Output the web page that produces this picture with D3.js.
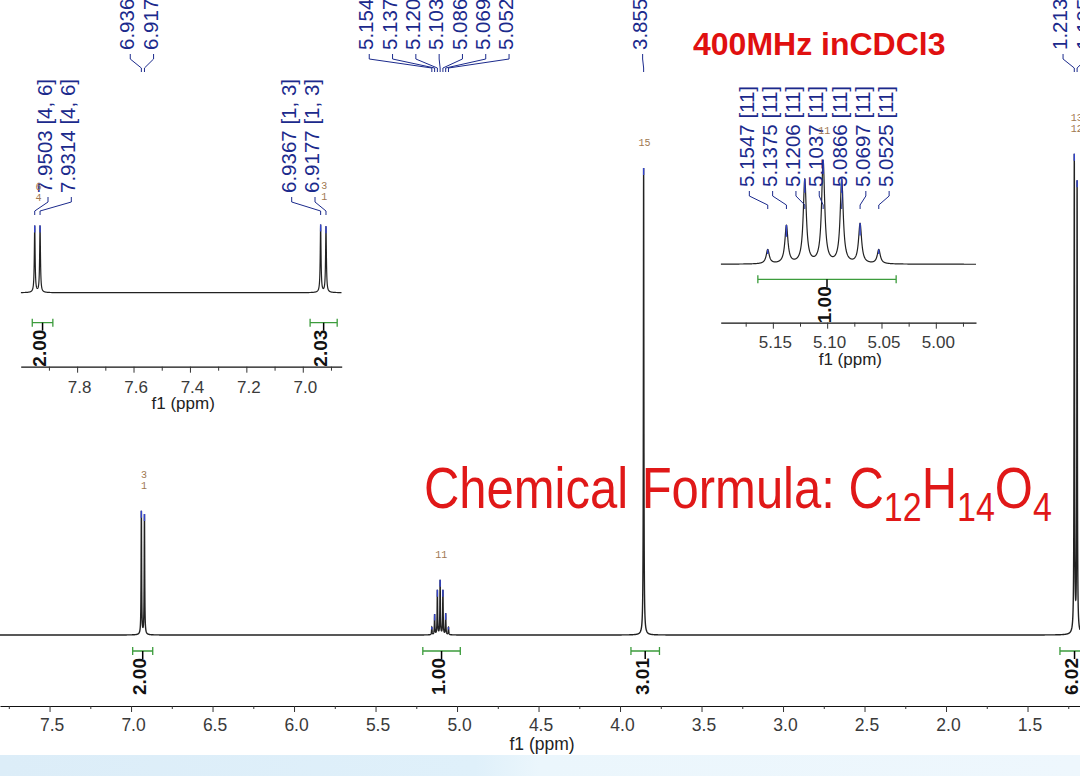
<!DOCTYPE html>
<html>
<head>
<meta charset="utf-8">
<script src="https://cdn.jsdelivr.net/npm/d3@7"></script>
<style>
body { margin: 0; background: #fff; }
svg { display: block; font-family: Arial, "Liberation Sans", sans-serif; }
</style>
</head>
<body>
<script>
// picked peaks (ppm) and heights (3.855 singlet = 100)
const peakPpm = [7.9503, 7.9314, 6.9367, 6.9177, 5.1547, 5.1375, 5.1206, 5.1037, 5.0866, 5.0697, 5.0525, 3.8552, 1.2130, 1.1958];
const peakHeight = [26.0, 26.0, 26.4, 25.7, 1.6, 4.3, 9.5, 11.6, 9.5, 4.5, 1.6, 100, 102.1, 96.4];
const halfWidth = 0.0017; // ppm

// multiplet label groups (indices into peakPpm)
const mainGroups = [[2, 3], [4, 5, 6, 7, 8, 9, 10], [11], [12, 13]];
const leftGroups = [[0, 1], [2, 3]];
const leftSuffix = ["[4, 6]", "[1, 3]"];
const rightGroups = [[4, 5, 6, 7, 8, 9, 10]];
const rightSuffix = ["[11]"];

// brown peak-number tags, one list per group
const mainTags = [["3", "1"], ["11"], ["15"], ["13", "12"]];
const leftTags = [["6", "4"], ["3", "1"]];
const rightTags = [["11"]];

// integrals
const mainIntFrom = [6.990, 5.210, 3.933, 1.301];
const mainIntTo = [6.867, 4.980, 3.758, 1.122];
const mainIntVal = ["2.00", "1.00", "3.01", "6.02"];
const leftIntFrom = [7.959, 6.974];
const leftIntTo = [7.886, 6.878];
const leftIntVal = ["2.00", "2.03"];
const rightIntFrom = [5.1638];
const rightIntTo = [5.0365];
const rightIntVal = ["1.00"];

// axis ticks
const mainTicks = [7.5, 7.0, 6.5, 6.0, 5.5, 5.0, 4.5, 4.0, 3.5, 3.0, 2.5, 2.0, 1.5];
const leftTicks = [7.8, 7.6, 7.4, 7.2, 7.0];
const rightTicks = [5.15, 5.10, 5.05, 5.00];

const W = 1080, H = 776;
const navy = "#1b2a8c", green = "#3c9c3c", brown = "#a07850";

const svg = d3.select("body").append("svg").attr("width", W).attr("height", H);
svg.append("rect").attr("width", W).attr("height", H).attr("fill", "#fff");

// bottom band
const grad = svg.append("defs").append("linearGradient").attr("id", "band");
grad.append("stop").attr("offset", "0").attr("stop-color", "#dcedf8");
grad.append("stop").attr("offset", "0.44").attr("stop-color", "#dff0fa");
grad.append("stop").attr("offset", "0.5").attr("stop-color", "#ebf6fc");
grad.append("stop").attr("offset", "1").attr("stop-color", "#eef7fd");
svg.append("rect").attr("x", 0).attr("y", 755).attr("width", W).attr("height", 21).attr("fill", "url(#band)");

function intensity(p) {
    let s = 0;
    for (let i = 0; i < peakPpm.length; i++) {
        const d = (p - peakPpm[i]) / halfWidth;
        s += peakHeight[i] / (1 + d * d);
    }
    return s;
}

function traceData(lo, hi, n) {
    const pts = d3.range(n + 1).map(i => lo + (hi - lo) * i / n);
    peakPpm.forEach(p => {
        for (let k = -120; k <= 120; k++) pts.push(p + k * halfWidth / 4);
    });
    return pts.filter(p => p >= lo && p <= hi).sort((a, b) => a - b).map(p => [p, intensity(p)]);
}

let clipId = 0;
function drawView(cfg) {
    const g = svg.append("g");
    const x = d3.scaleLinear().domain(cfg.xDomain).range(cfg.xRange);
    const y = d3.scaleLinear().domain(cfg.yDomain).range(cfg.yRange);
    const lo = Math.min(...cfg.xDomain), hi = Math.max(...cfg.xDomain);

    const id = "clip" + (clipId++);
    g.append("clipPath").attr("id", id).append("rect")
        .attr("x", cfg.xRange[0]).attr("y", 0)
        .attr("width", cfg.xRange[1] - cfg.xRange[0]).attr("height", H);

    // spectrum trace
    g.append("path")
        .datum(traceData(lo, hi, 4000))
        .attr("clip-path", `url(#${id})`)
        .attr("fill", "none")
        .attr("stroke", "#222")
        .attr("stroke-width", cfg.traceWidth)
        .attr("d", d3.line().x(d => x(d[0])).y(d => y(d[1])));

    // peak top marks
    const visible = peakPpm.map((p, i) => i).filter(i => peakPpm[i] >= lo && peakPpm[i] <= hi);
    g.selectAll(".mark").data(visible).join("line")
        .attr("clip-path", `url(#${id})`)
        .attr("x1", i => x(peakPpm[i])).attr("x2", i => x(peakPpm[i]))
        .attr("y1", i => y(intensity(peakPpm[i])))
        .attr("y2", i => {
            const top = y(intensity(peakPpm[i]));
            return top + Math.min(cfg.markLen, (y(0) - top) * 0.3);
        })
        .attr("stroke", "#3344cc").attr("stroke-width", 1.4);

    // multiplet labels
    const sp = 23.3, bot = cfg.labelBottom;
    cfg.groups.forEach((grp, gi) => {
        const px = grp.map(i => x(peakPpm[i]));
        const mean = d3.mean(px);
        let start = mean + cfg.labelShift - sp * (grp.length - 1) / 2;
        if (cfg.clamp) {
            start = Math.max(start, cfg.clamp[0]);
            start = Math.min(start, cfg.clamp[1] - sp * (grp.length - 1));
        }
        grp.forEach((pi, k) => {
            const lx = start + k * sp;
            const txt = cfg.suffix ? peakPpm[pi].toFixed(4) + " " + cfg.suffix[gi] : peakPpm[pi].toFixed(4);
            g.append("text")
                .attr("transform", `translate(${lx},${bot}) rotate(-90)`)
                .attr("dy", "0.35em")
                .attr("font-size", 20.5)
                .attr("fill", navy)
                .text(txt);
            g.append("path")
                .attr("d", `M${lx + 3},${bot + 4}V${bot + 9}L${px[k]},${bot + 18}V${bot + 22}`)
                .attr("fill", "none").attr("stroke", navy).attr("stroke-width", 1);
        });
        // brown tags
        const top = d3.min(grp, i => y(intensity(peakPpm[i])));
        const tags = cfg.tags[gi];
        tags.forEach((t, k) => {
            g.append("text")
                .attr("x", mean + 1)
                .attr("y", top - cfg.tagGap - (tags.length - 1 - k) * 11)
                .attr("text-anchor", "middle")
                .attr("font-family", "'Liberation Mono', monospace")
                .attr("font-size", 10)
                .attr("fill", brown)
                .text(t);
        });
    });

    // integrals
    cfg.intFrom.forEach((f, i) => {
        const x1 = x(f), x2 = x(cfg.intTo[i]), cx = (x1 + x2) / 2, by = cfg.intY;
        g.append("path")
            .attr("d", `M${x1},${by - 4}V${by + 4}M${x1},${by}H${x2}M${x2},${by - 4}V${by + 4}`)
            .attr("fill", "none").attr("stroke", green).attr("stroke-width", 1.3);
        g.append("line")
            .attr("x1", cx).attr("x2", cx).attr("y1", by).attr("y2", by + 8)
            .attr("stroke", "#000").attr("stroke-width", 1.5);
        g.append("text")
            .attr("transform", `translate(${cx - 3},${by + 7}) rotate(-90)`)
            .attr("dy", "0.35em")
            .attr("text-anchor", "end")
            .attr("font-size", 19)
            .attr("font-weight", "bold")
            .attr("fill", "#111")
            .text(cfg.intVal[i]);
    });

    // axis
    const ax = g.append("g").attr("transform", `translate(0,${cfg.axisY})`)
        .call(d3.axisBottom(x).tickValues(cfg.ticks).tickSize(cfg.tickLen[0]).tickSizeOuter(0)
            .tickFormat(d3.format(cfg.fmt)));
    ax.select(".domain").attr("stroke", "#111").attr("stroke-width", 1.2);
    ax.selectAll(".tick line").attr("stroke", "#333");
    ax.selectAll(".tick text")
        .attr("y", cfg.labelY).attr("dx", 2)
        .attr("font-family", "Arial, 'Liberation Sans', sans-serif")
        .attr("font-size", cfg.tickFont).attr("fill", "#3a3a3a");
    const minor = cfg.ticks.map(t => t + cfg.minorStep).concat([cfg.ticks[cfg.ticks.length - 1] - cfg.minorStep])
        .filter(t => t >= lo && t <= hi);
    const mx = g.append("g").attr("transform", `translate(0,${cfg.axisY})`)
        .call(d3.axisBottom(x).tickValues(minor).tickSize(cfg.tickLen[1]).tickFormat(""));
    mx.select(".domain").remove();
    mx.selectAll(".tick line").attr("stroke", "#333");

    g.append("text")
        .attr("x", (cfg.xRange[0] + cfg.xRange[1]) / 2 + 2)
        .attr("y", cfg.fLabelY)
        .attr("text-anchor", "middle")
        .attr("font-size", cfg.tickFont)
        .attr("fill", "#222")
        .text("f1 (ppm)");
}

// main spectrum
drawView({
    xDomain: [7.804, 1.178], xRange: [0, 1080],
    yDomain: [0, 100], yRange: [635, 168], traceWidth: 1.4,
    groups: mainGroups, suffix: null, tags: mainTags, tagGap: 22,
    labelBottom: 50, labelShift: -4, markLen: 7,
    intFrom: mainIntFrom, intTo: mainIntTo, intVal: mainIntVal, intY: 651,
    axisY: 706, ticks: mainTicks, minorStep: 0.25, fmt: ".1f", tickLen: [6, 3],
    labelY: 13, tickFont: 17.5, fLabelY: 750
});

// left inset: aromatic doublets
drawView({
    xDomain: [8.0, 6.862], xRange: [20.7, 341.7],
    yDomain: [0, 26], yRange: [292.7, 226], traceWidth: 1.2,
    groups: leftGroups, suffix: leftSuffix, tags: leftTags, tagGap: 24,
    labelBottom: 193, labelShift: -4, clamp: [45, 312], markLen: 7,
    intFrom: leftIntFrom, intTo: leftIntTo, intVal: leftIntVal, intY: 322.7,
    axisY: 366.7, ticks: leftTicks, minorStep: 0.1, fmt: ".1f", tickLen: [6, 4],
    labelY: 14, tickFont: 17, fLabelY: 409
});

// right inset: septet
drawView({
    xDomain: [5.198, 4.963], xRange: [720.7, 976],
    yDomain: [0, 11.6], yRange: [264.3, 162], traceWidth: 1.2,
    groups: rightGroups, suffix: rightSuffix, tags: rightTags, tagGap: 26,
    labelBottom: 187, labelShift: -7, markLen: 14,
    intFrom: rightIntFrom, intTo: rightIntTo, intVal: rightIntVal, intY: 279.3,
    axisY: 322.7, ticks: rightTicks, minorStep: 0.025, fmt: ".2f", tickLen: [6, 4],
    labelY: 13, tickFont: 17, fLabelY: 365
});

// titles
svg.append("text")
    .attr("x", 693).attr("y", 55)
    .attr("font-size", 32).attr("font-weight", "bold")
    .attr("fill", "#e01010")
    .text("400MHz inCDCl3");

const formula = svg.append("text")
    .attr("transform", "translate(424,508) scale(0.83,0.97)")
    .attr("font-size", 59)
    .attr("fill", "#e01818");
formula.append("tspan").text("Chemical Formula: C");
formula.append("tspan").attr("font-size", 41).attr("dy", 13).text("12");
formula.append("tspan").attr("dy", -13).text("H");
formula.append("tspan").attr("font-size", 41).attr("dy", 13).text("14");
formula.append("tspan").attr("dy", -13).text("O");
formula.append("tspan").attr("font-size", 41).attr("dy", 13).text("4");
</script>
</body>
</html>
